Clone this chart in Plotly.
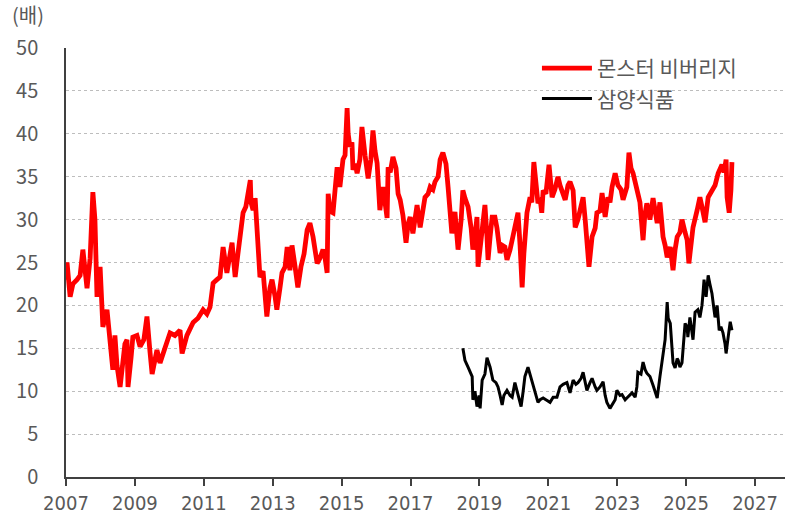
import plotly.graph_objects as go

# Monster Beverage P/E (decimal year, multiple)
monster_year = [2007.00, 2007.03, 2007.12, 2007.20, 2007.32, 2007.41, 2007.49, 2007.55, 2007.61, 2007.70,
    2007.78, 2007.84, 2007.90, 2007.99, 2008.07, 2008.19, 2008.28, 2008.36, 2008.42, 2008.48,
    2008.57, 2008.65, 2008.71, 2008.77, 2008.80, 2008.89, 2008.94, 2009.06, 2009.15, 2009.26,
    2009.35, 2009.44, 2009.50, 2009.64, 2009.73, 2009.87, 2010.02, 2010.16, 2010.31, 2010.37,
    2010.51, 2010.69, 2010.83, 2010.98, 2011.09, 2011.18, 2011.27, 2011.38, 2011.47, 2011.56,
    2011.62, 2011.67, 2011.82, 2011.91, 2011.99, 2012.05, 2012.14, 2012.22, 2012.28, 2012.35,
    2012.37, 2012.43, 2012.49, 2012.54, 2012.63, 2012.72, 2012.78, 2012.83, 2012.92, 2012.98,
    2013.07, 2013.12, 2013.21, 2013.27, 2013.36, 2013.42, 2013.50, 2013.56, 2013.65, 2013.73,
    2013.82, 2013.91, 2014.00, 2014.08, 2014.17, 2014.29, 2014.37, 2014.46, 2014.52, 2014.58,
    2014.61, 2014.66, 2014.75, 2014.81, 2014.87, 2014.95, 2015.04, 2015.10, 2015.16, 2015.19,
    2015.24, 2015.30, 2015.33, 2015.39, 2015.45, 2015.53, 2015.59, 2015.68, 2015.77, 2015.85,
    2015.91, 2015.97, 2016.03, 2016.11, 2016.20, 2016.26, 2016.32, 2016.35, 2016.41, 2016.49,
    2016.58, 2016.64, 2016.70, 2016.78, 2016.87, 2016.93, 2016.99, 2017.07, 2017.19, 2017.28,
    2017.36, 2017.42, 2017.51, 2017.57, 2017.65, 2017.71, 2017.80, 2017.86, 2017.94, 2018.03,
    2018.09, 2018.15, 2018.20, 2018.29, 2018.38, 2018.47, 2018.52, 2018.58, 2018.67, 2018.76,
    2018.81, 2018.87, 2018.93, 2018.96, 2019.04, 2019.10, 2019.16, 2019.22, 2019.25, 2019.31,
    2019.37, 2019.45, 2019.51, 2019.60, 2019.66, 2019.74, 2019.80, 2019.89, 2019.98, 2020.06,
    2020.12, 2020.18, 2020.24, 2020.29, 2020.38, 2020.47, 2020.52, 2020.58, 2020.64, 2020.70,
    2020.76, 2020.81, 2020.85, 2020.93, 2021.02, 2021.11, 2021.19, 2021.28, 2021.34, 2021.43,
    2021.49, 2021.57, 2021.63, 2021.72, 2021.78, 2021.86, 2021.92, 2022.01, 2022.07, 2022.12,
    2022.18, 2022.27, 2022.36, 2022.41, 2022.50, 2022.56, 2022.65, 2022.73, 2022.79, 2022.85,
    2022.94, 2023.02, 2023.11, 2023.17, 2023.23, 2023.28, 2023.34, 2023.40, 2023.46, 2023.55,
    2023.60, 2023.66, 2023.75, 2023.80, 2023.86, 2023.95, 2024.04, 2024.10, 2024.16, 2024.24,
    2024.33, 2024.39, 2024.45, 2024.54, 2024.62, 2024.68, 2024.74, 2024.82, 2024.88, 2024.97,
    2025.03, 2025.08, 2025.14, 2025.20, 2025.32, 2025.40, 2025.46, 2025.55, 2025.64, 2025.75,
    2025.84, 2025.93, 2026.04, 2026.10, 2026.16, 2026.19, 2026.25, 2026.30, 2026.33]
monster_pe = [23.0, 25.0, 21.0, 22.5, 23.0, 23.5, 26.5, 24.0, 22.0, 25.5,
    33.2, 30.0, 21.0, 24.5, 17.5, 19.5, 15.5, 12.5, 16.5, 13.0,
    10.5, 14.0, 15.5, 16.0, 10.5, 14.0, 16.3, 16.5, 15.2, 16.0,
    18.7, 14.5, 12.0, 14.8, 13.3, 15.0, 16.8, 16.5, 17.1, 14.4,
    16.5, 18.0, 18.5, 19.5, 19.0, 19.8, 22.6, 23.0, 23.3, 26.8,
    24.5, 23.8, 27.3, 23.3, 26.0, 27.6, 30.8, 31.5, 33.0, 34.6,
    32.0, 31.1, 32.5, 29.6, 23.3, 24.0, 21.5, 18.7, 22.0, 23.0,
    21.0, 19.5, 22.0, 23.8, 24.5, 26.8, 24.1, 27.0, 24.5, 22.1,
    24.5, 26.0, 28.8, 29.6, 28.0, 24.9, 25.5, 26.5, 25.5, 23.8,
    33.0, 31.0, 30.8, 33.5, 36.1, 33.8, 37.0, 37.5, 43.0, 40.0,
    38.5, 39.0, 35.8, 36.5, 35.4, 37.0, 40.8, 37.5, 34.8, 37.0,
    40.4, 38.0, 36.6, 31.1, 33.8, 32.0, 30.2, 36.1, 35.5, 37.3,
    36.0, 33.0, 32.3, 30.5, 27.3, 29.5, 30.3, 28.4, 31.7, 29.1,
    31.0, 32.6, 33.0, 33.8, 33.5, 34.4, 35.0, 37.0, 37.8, 36.5,
    33.8, 31.0, 28.4, 30.9, 26.5, 30.0, 33.4, 32.5, 31.5, 29.0,
    26.5, 28.0, 30.3, 24.5, 27.0, 29.0, 31.7, 28.0, 25.3, 28.0,
    30.3, 30.3, 29.0, 26.1, 27.0, 26.8, 25.3, 26.5, 28.4, 29.5,
    30.8, 27.0, 22.1, 26.0, 30.8, 32.6, 32.0, 36.7, 33.5, 31.9,
    32.5, 30.8, 33.4, 33.0, 36.4, 32.6, 33.5, 35.0, 34.0, 33.1,
    32.3, 34.0, 34.4, 33.4, 29.1, 30.0, 31.1, 32.6, 30.0, 27.6,
    24.5, 28.0, 29.0, 30.8, 31.0, 33.1, 30.3, 32.6, 32.0, 33.8,
    35.4, 34.0, 33.5, 32.3, 33.0, 33.8, 37.8, 36.0, 35.4, 34.0,
    33.1, 32.0, 27.6, 30.5, 31.9, 30.0, 32.5, 30.5, 29.6, 32.0,
    28.0, 27.0, 25.6, 26.8, 24.1, 26.5, 28.0, 28.5, 30.0, 28.5,
    27.6, 24.9, 27.5, 29.1, 31.1, 32.6, 31.5, 29.7, 32.6, 33.4,
    34.0, 35.4, 36.4, 35.5, 37.0, 32.6, 30.8, 33.4, 36.7]

# Samyang Foods P/E
samyang_year = [2018.52, 2018.58, 2018.67, 2018.79, 2018.81, 2018.87, 2018.93, 2018.99, 2019.02, 2019.08,
    2019.16, 2019.22, 2019.31, 2019.39, 2019.48, 2019.54, 2019.60, 2019.66, 2019.71, 2019.80,
    2019.89, 2019.95, 2020.03, 2020.12, 2020.21, 2020.27, 2020.32, 2020.41, 2020.50, 2020.61,
    2020.70, 2020.76, 2020.85, 2020.93, 2021.05, 2021.14, 2021.25, 2021.34, 2021.43, 2021.54,
    2021.63, 2021.72, 2021.80, 2021.86, 2021.95, 2022.01, 2022.07, 2022.12, 2022.21, 2022.27,
    2022.36, 2022.41, 2022.50, 2022.59, 2022.65, 2022.70, 2022.79, 2022.88, 2022.94, 2022.99,
    2023.08, 2023.14, 2023.23, 2023.28, 2023.37, 2023.43, 2023.52, 2023.57, 2023.60, 2023.69,
    2023.75, 2023.81, 2023.86, 2023.95, 2024.04, 2024.10, 2024.16, 2024.24, 2024.33, 2024.39,
    2024.45, 2024.48, 2024.54, 2024.59, 2024.62, 2024.68, 2024.74, 2024.77, 2024.82, 2024.88,
    2024.97, 2025.03, 2025.05, 2025.11, 2025.17, 2025.20, 2025.26, 2025.34, 2025.40, 2025.46,
    2025.49, 2025.52, 2025.58, 2025.64, 2025.69, 2025.75, 2025.81, 2025.84, 2025.90, 2025.96,
    2026.01, 2026.07, 2026.13, 2026.16, 2026.22, 2026.28, 2026.33]
samyang_pe = [15.0, 13.6, 12.8, 11.7, 9.0, 10.0, 8.2, 9.5, 8.0, 11.3,
    12.0, 13.9, 12.8, 11.3, 11.0, 10.5, 9.5, 8.4, 9.5, 10.1,
    9.5, 9.3, 11.0, 9.6, 8.2, 10.0, 11.7, 12.8, 11.5, 10.1,
    8.7, 9.0, 9.2, 9.0, 8.7, 9.3, 9.3, 10.5, 10.8, 11.0,
    9.8, 11.3, 10.8, 11.0, 11.5, 12.2, 11.0, 10.1, 11.0, 11.5,
    10.5, 10.1, 10.5, 11.1, 9.5, 8.7, 8.0, 8.6, 9.0, 10.1,
    9.5, 9.6, 9.0, 9.2, 9.5, 9.8, 9.3, 10.5, 12.2, 12.0,
    13.4, 12.5, 12.1, 11.7, 10.7, 10.0, 9.2, 11.7, 14.4, 16.0,
    20.4, 18.5, 17.9, 15.5, 13.3, 12.7, 13.8, 13.6, 12.8, 13.3,
    17.9, 17.5, 16.3, 18.6, 17.0, 16.0, 19.2, 19.5, 18.6, 20.0,
    21.4, 23.0, 21.0, 23.5, 22.5, 21.4, 19.5, 18.6, 20.0, 17.1,
    17.5, 16.8, 15.5, 14.4, 16.3, 18.1, 17.1]

series_names = ["몬스터 비버리지", "삼양식품"]
x_ticks = [2007, 2009, 2011, 2013, 2015, 2017, 2019, 2021, 2023, 2025, 2027]
y_ticks = [0, 5, 10, 15, 20, 25, 30, 35, 40, 45, 50]
unit_label = "(배)"

grey = "#595959"
font_kr = "Noto Sans CJK KR"

fig = go.Figure()
fig.add_trace(go.Scatter(x=monster_year, y=monster_pe, mode="lines", name=series_names[0],
                         line=dict(color="#ff0000", width=4.8)))
fig.add_trace(go.Scatter(x=samyang_year, y=samyang_pe, mode="lines", name=series_names[1],
                         line=dict(color="#000000", width=3)))

fig.update_layout(
    width=785, height=516,
    margin=dict(l=66, r=0, t=48, b=39),
    plot_bgcolor="white", paper_bgcolor="white",
    font=dict(family=font_kr, color=grey, size=19),
    showlegend=True,
    legend=dict(x=0.655, y=1.0, xanchor="left", yanchor="top",
                bgcolor="rgba(0,0,0,0)", font=dict(size=21, color=grey, family=font_kr),
                itemwidth=50, tracegroupgap=0),
    xaxis=dict(range=[2007, 2027.87], tickmode="array", tickvals=x_ticks,
               ticktext=[str(t) for t in x_ticks],
               showgrid=False, zeroline=False, showline=True, linecolor="#404040", linewidth=1.5,
               ticks="outside", ticklen=7, tickcolor="#404040", tickwidth=1.5,
               tickfont=dict(size=20, color=grey, family="Liberation Sans Narrow, DejaVu Sans Condensed, " + font_kr)),
    yaxis=dict(range=[0, 50], tickmode="array", tickvals=y_ticks,
               showgrid=True, gridcolor="#bdbdbd", griddash="dot", gridwidth=1,
               zeroline=False, showline=True, linecolor="#404040", linewidth=1.5,
               ticks="", ticklabelstandoff=22,
               tickfont=dict(size=20, color=grey, family=font_kr)),
    annotations=[dict(text=unit_label, xref="paper", yref="paper", x=-0.078, y=1.04,
                      xanchor="left", yanchor="bottom", showarrow=False,
                      font=dict(size=20, color=grey, family=font_kr))],
)

fig.write_html("out.html", config={"displayModeBar": False},
               post_script="document.body.style.margin='0';document.body.style.overflow='hidden';")
